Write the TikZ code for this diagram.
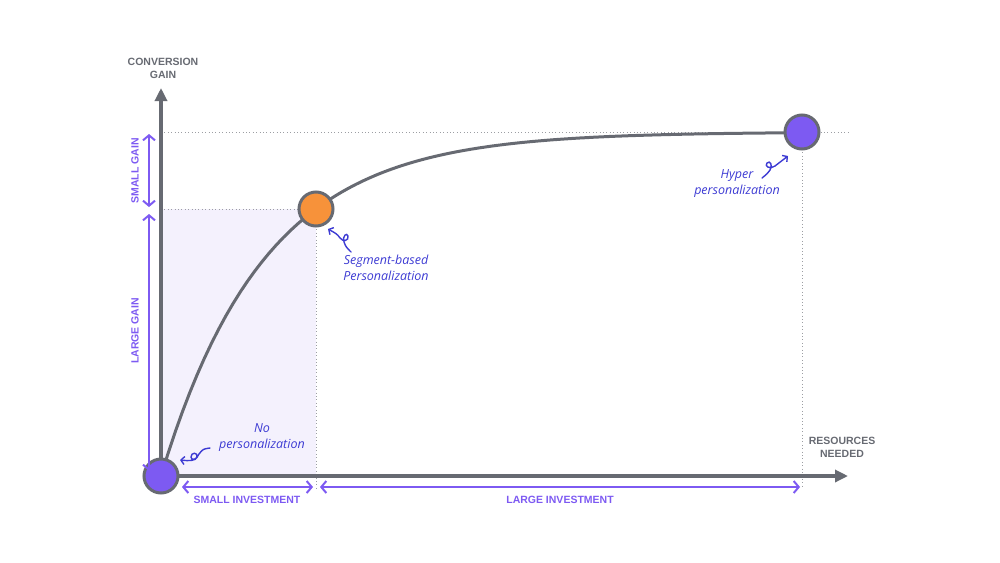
\documentclass[tikz,border=0pt]{standalone}
\usepackage{fontspec}
\setmainfont{Liberation Sans}
\newfontfamily\maofont{Open Sans}
\usetikzlibrary{arrows.meta}

\definecolor{cinza}{HTML}{676A72}
\definecolor{pontilhado}{HTML}{9C9EA3}
\definecolor{roxo}{HTML}{7D5AF2}
\definecolor{laranja}{HTML}{F7923A}
\definecolor{lavanda}{HTML}{F4F1FD}
\definecolor{azul}{HTML}{3D3BD3}

\begin{document}
\begin{tikzpicture}[x=1pt, y=-1pt,
  eixo/.style={draw=cinza, line width=3.2pt, -{Triangle[length=13pt,width=12pt]}},
  curva/.style={draw=cinza, line width=3pt},
  ponto/.style={circle, draw=cinza, line width=3pt, minimum size=34pt, inner sep=0pt},
  guia/.style={draw=pontilhado, line width=0.8pt, dash pattern=on 0.8pt off 2.6pt},
  medida/.style={draw=roxo, line width=2pt,
    {Straight Barb[length=5pt,width=12pt]}-{Straight Barb[length=5pt,width=12pt]}},
  rotulo/.style={text=roxo, font=\bfseries\fontsize{10.5}{12}\selectfont},
  titulo/.style={text=cinza, align=center, font=\bfseries\fontsize{10.5}{13}\selectfont},
  nota/.style={text=azul, align=center, font=\maofont\itshape\fontsize{12.5}{16}\selectfont},
  seta/.style={draw=azul, line width=1.4pt, line cap=round,
    -{Straight Barb[length=3.5pt,width=8pt]}}
]
\useasboundingbox (0,0) rectangle (1000,562);

% Pontos principais
\coordinate (O) at (161,476);
\coordinate (S) at (316,209);
\coordinate (H) at (802,132);
\coordinate (ytopo) at (161,88);
\coordinate (xfim) at (848,476);

% Area sombreada
\fill[lavanda] (O) rectangle (S);

% Linhas pontilhadas
\draw[guia] (161,132) -- (848,132);
\draw[guia] (161,209) -- (S);
\draw[guia] (S) -- (316,488);
\draw[guia] (H) -- (802,486);

% Eixos
\draw[eixo] (O) -- (ytopo);
\draw[eixo] (O) -- (xfim);

% Curva de ganho
\draw[curva] plot[domain=161:802, samples=90] (\x, {132+344*exp(-0.00966*(\x-161))});

% Circulos
\node[ponto, fill=roxo] (nenhuma) at (O) {};
\node[ponto, fill=laranja] (segmento) at (S) {};
\node[ponto, fill=roxo] (hiper) at (H) {};

% Setas de medida
\coordinate (g1) at (149,134);
\coordinate (g2) at (149,207);
\coordinate (g3) at (149,214);
\coordinate (g4) at (149,471);
\coordinate (i1) at (182,487);
\coordinate (i2) at (313,487);
\coordinate (i3) at (320,487);
\coordinate (i4) at (800,487);
\draw[medida] (g1) -- (g2);
\draw[medida] (g3) -- (g4);
\draw[medida] (i1) -- (i2);
\draw[medida] (i3) -- (i4);

\node[rotulo, rotate=90] (ganhopeq) at (135,171) {SMALL GAIN};
\node[rotulo, rotate=90] (ganhogr) at (135,331) {LARGE GAIN};
\node[rotulo] (invpeq) at (247,500) {SMALL INVESTMENT};
\node[rotulo] (invgr) at (560,500) {LARGE INVESTMENT};

% Titulos dos eixos
\node[titulo] (tity) at (163,68) {CONVERSION\\GAIN};
\node[titulo] (titx) at (842,447) {RESOURCES\\NEEDED};

% Notas manuscritas
\node[nota] (notanenhuma) at (262,438) {No\\personalization};
\node[nota] (notasegmento) at (386,268) {Segment-based\\Personalization};
\node[nota] (notahiper) at (737,184) {Hyper\\personalization};

\coordinate (a1) at (210,448);
\coordinate (a2) at (180,460);
\draw[seta] (a1) .. controls (203,449) .. (199,454)
  .. controls (197,460) and (191,461) .. (191,457)
  .. controls (191,452) and (198,452) .. (197,457)
  .. controls (196,461) and (189,461) .. (a2);

\coordinate (b1) at (351,252);
\coordinate (b2) at (328,229);
\draw[seta] (b1) .. controls (346,247) .. (344,242)
  .. controls (342,236) and (347,232) .. (348,236)
  .. controls (349,241) and (343,242) .. (340,238)
  .. controls (337,234) .. (b2);

\coordinate (c1) at (762,178);
\coordinate (c2) at (788,156);
\draw[seta] (c1) .. controls (767,174) .. (770,170)
  .. controls (773,165) and (770,160) .. (767,163)
  .. controls (764,166) and (770,170) .. (775,166)
  .. controls (780,162) .. (c2);

\end{tikzpicture}
\end{document}
